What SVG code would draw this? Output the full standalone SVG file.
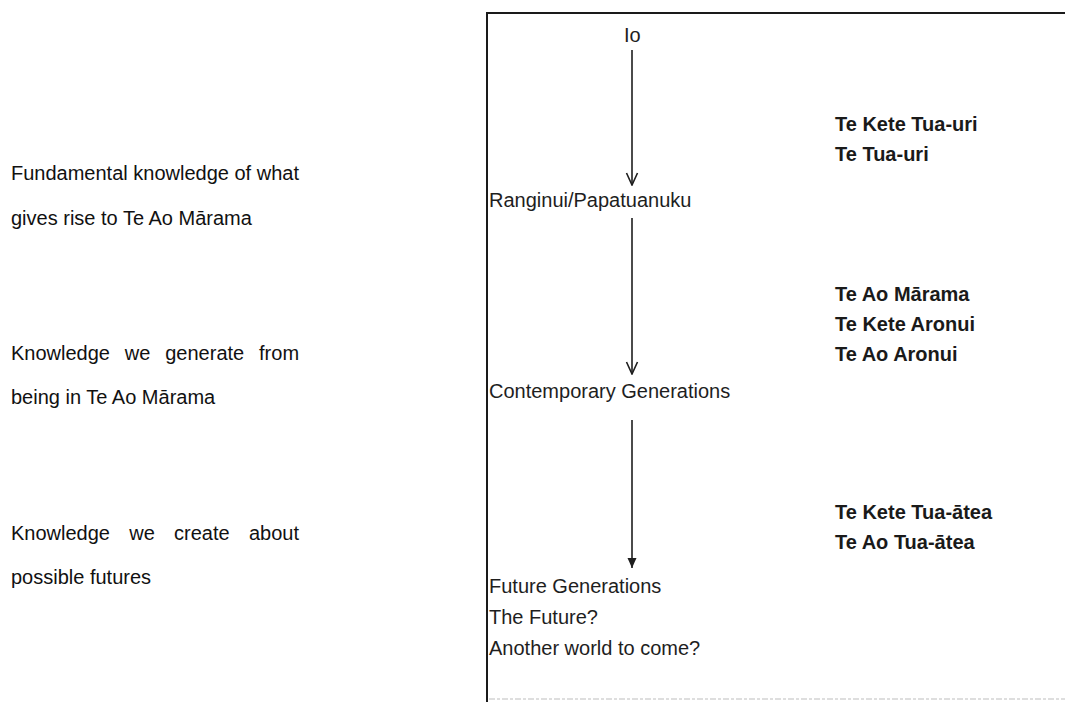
<svg xmlns="http://www.w3.org/2000/svg" width="1065" height="702" viewBox="0 0 1065 702">
  <style>
    .side { font-family: "Liberation Sans", Arial, sans-serif; font-size: 20px; fill: #111; }
    .node { font-family: "Liberation Sans", Arial, sans-serif; font-size: 20px; fill: #1e1e1e; }
    .kete { font-family: "Liberation Sans", Arial, sans-serif; font-size: 20px; font-weight: bold; fill: #1a1a1a; }
    .frame { stroke: #1a1a1a; stroke-width: 2; fill: none; }
    .link { stroke: #1e1e1e; stroke-width: 1.6; fill: none; }
  </style>
  <defs>
    <!-- heads are drawn pointing along +x so orient="auto" turns them with the line -->
    <marker id="open-head" viewBox="0 0 14 14" refX="13" refY="7" markerWidth="14" markerHeight="14" markerUnits="userSpaceOnUse" orient="auto">
      <path d="M1,1.5 L13,7 L1,12.5" fill="none" stroke="#1e1e1e" stroke-width="1.6"/>
    </marker>
    <marker id="solid-head" viewBox="0 0 11 11" refX="10.5" refY="5.5" markerWidth="11" markerHeight="11" markerUnits="userSpaceOnUse" orient="auto">
      <path d="M0.5,1 L10.5,5.5 L0.5,10 Z" fill="#1e1e1e"/>
    </marker>
  </defs>
  <rect width="1065" height="702" fill="#ffffff"/>

  <!-- descriptions on the left -->
  <g id="desc-origin">
    <text class="side" x="11" y="180">Fundamental knowledge of what</text>
    <text class="side" x="11" y="225">gives rise to Te Ao Mārama</text>
  </g>
  <g id="desc-present">
    <text class="side" x="11" y="360" word-spacing="9.3">Knowledge we generate from</text>
    <text class="side" x="11" y="404">being in Te Ao Mārama</text>
  </g>
  <g id="desc-future">
    <text class="side" x="11" y="540" word-spacing="13.7">Knowledge we create about</text>
    <text class="side" x="11" y="584">possible futures</text>
  </g>

  <!-- frame -->
  <g id="frame">
    <path class="frame" d="M1065,13 L487,13 L487,702"/>
    <line x1="489" y1="699" x2="1065" y2="699" stroke="#bdbdbd" stroke-width="1.2" stroke-dasharray="6 2 3 2"/>
  </g>

  <!-- lineage nodes -->
  <g id="node-io">
    <text class="node" x="624" y="42">Io</text>
  </g>
  <g id="node-ranginui">
    <text class="node" x="489" y="207">Ranginui/Papatuanuku</text>
  </g>
  <g id="node-contemporary">
    <text class="node" x="489" y="398">Contemporary Generations</text>
  </g>
  <g id="node-future">
    <text class="node" x="489" y="593">Future Generations</text>
    <text class="node" x="489" y="624">The Future?</text>
    <text class="node" x="489" y="655">Another world to come?</text>
  </g>

  <!-- kete labels -->
  <g id="kete-tuauri">
    <text class="kete" x="835" y="131">Te Kete Tua-uri</text>
    <text class="kete" x="835" y="161">Te Tua-uri</text>
  </g>
  <g id="kete-aronui">
    <text class="kete" x="835" y="301">Te Ao Mārama</text>
    <text class="kete" x="835" y="331">Te Kete Aronui</text>
    <text class="kete" x="835" y="361">Te Ao Aronui</text>
  </g>
  <g id="kete-tuaatea">
    <text class="kete" x="835" y="519">Te Kete Tua-ātea</text>
    <text class="kete" x="835" y="549">Te Ao Tua-ātea</text>
  </g>

  <!-- connectors -->
  <g id="connectors">
    <line class="link" x1="632" y1="50" x2="632" y2="185" marker-end="url(#open-head)"/>
    <line class="link" x1="632" y1="218" x2="632" y2="374" marker-end="url(#open-head)"/>
    <line class="link" x1="632" y1="420" x2="632" y2="568" marker-end="url(#solid-head)"/>
  </g>
</svg>
